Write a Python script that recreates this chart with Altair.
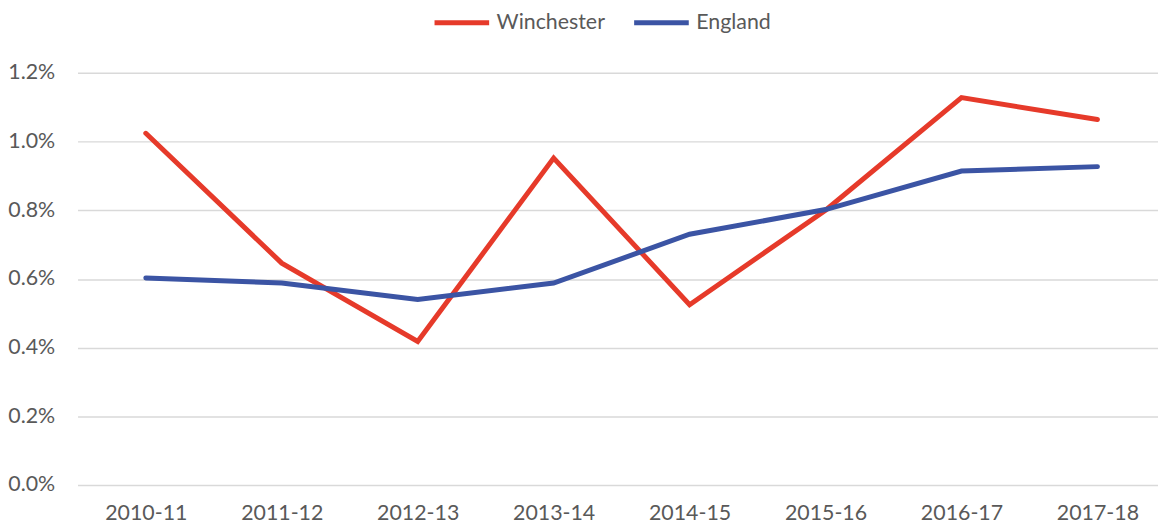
import altair as alt
import pandas as pd

years = ["2010-11", "2011-12", "2012-13", "2013-14", "2014-15", "2015-16", "2016-17", "2017-18"]
winchester = [0.01024, 0.00646, 0.00418, 0.00952, 0.00525, 0.00800, 0.01128, 0.01064]
england = [0.00603, 0.00588, 0.00540, 0.00588, 0.00730, 0.00802, 0.00914, 0.00927]
series = ["Winchester", "England"]
colors = ["#E63A2A", "#3B54A4"]

rows = []
for name, vals in zip(series, [winchester, england]):
    for y, v in zip(years, vals):
        rows.append({"Year": y, "Series": name, "Value": v})
df = pd.DataFrame(rows)

FONT = "Lato"
GREY = "#595959"
FS = 21.5

chart = alt.Chart(df).mark_line(strokeWidth=5, strokeCap="round", strokeJoin="miter").encode(
    x=alt.X("Year:N", sort=years,
            scale=alt.Scale(type="point", padding=0.474, align=0.53),
            axis=alt.Axis(title=None, labelAngle=0, domain=False, ticks=False, grid=False,
                          labelPadding=18, labelFontSize=FS, labelColor=GREY, labelFont=FONT)),
    y=alt.Y("Value:Q", scale=alt.Scale(domain=[0, 0.012], nice=False),
            axis=alt.Axis(title=None, format=".1%", values=[0, 0.002, 0.004, 0.006, 0.008, 0.010, 0.012],
                          domain=False, ticks=False, grid=True, gridColor="#D9D9D9", gridWidth=1.5,
                          labelPadding=23, labelFontSize=FS, labelColor=GREY, labelFont=FONT)),
    color=alt.Color("Series:N", sort=series,
                    scale=alt.Scale(domain=series, range=colors),
                    legend=alt.Legend(title=None, orient="none", direction="horizontal",
                                      legendX=374.5, legendY=-63, symbolType="M-2.75,0H2.75",
                                      symbolSize=400, symbolStrokeWidth=5,
                                      labelFontSize=FS, labelColor=GREY, labelFont=FONT,
                                      labelOffset=22.5, columnPadding=19, padding=0)),
    order=alt.Order("Series:N")
).properties(
    width=1088, height=415,
    background="white",
    autosize=alt.AutoSizeParams(type="none"),
    padding={"left": 70, "top": 63.5, "right": 0, "bottom": 41.5}
).configure_view(strokeWidth=0)

chart.save("out.html", embed_options={"renderer": "svg", "actions": False})
